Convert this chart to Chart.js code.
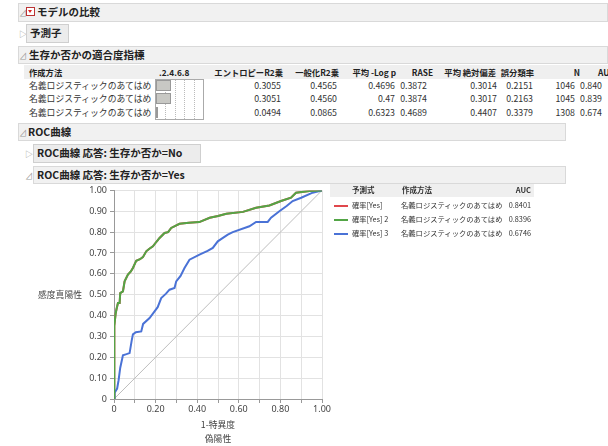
<!DOCTYPE html>
<html>
<head>
<meta charset="utf-8">
<script src="https://cdn.jsdelivr.net/npm/chart.js@4"></script>
<style>
  html, body { margin: 0; padding: 0; }
  body { width: 608px; height: 446px; overflow: hidden; background: #fff; position: relative;
         font-family: "Noto Sans CJK JP", sans-serif; color: #222; }
  .abs { position: absolute; white-space: nowrap; }
  .bar { position: absolute; background: #f1f1f1; border: 1px solid #d9d9d9; box-sizing: border-box; }
  .btn { position: absolute; background: #ececec; border: 1px solid #cfcfcf; box-sizing: border-box; }
  .ttl { position: absolute; font-weight: bold; font-size: 10.5px; line-height: 14px; }
  .tri { position: absolute; font-size: 8px; color: #999; line-height: 10px; }
  .cell { position: absolute; font-size: 8.8px; line-height: 12px; white-space: nowrap; color: #333; }
  .hd { font-weight: bold; color: #222; font-size: 8.3px; }
  #chartBox { position: absolute; left: 0; top: 182px; width: 332px; height: 238px; }
  .lg { position: absolute; font-size: 7.3px; line-height: 11px; white-space: nowrap; color: #333; }
  .lg.hd { font-size: 7.5px; }
</style>
</head>
<body>

<!-- report outline -->
<div class="bar" style="left:18px;top:3px;width:590px;height:19px;"></div>
<div class="tri" style="left:19px;top:8px;">⊿</div>
<div class="abs" style="left:26px;top:7px;width:9px;height:9px;border:1px solid #b33;background:#fff;box-sizing:border-box;"></div>
<div class="abs" style="left:28px;top:10px;width:0;height:0;border-left:2.5px solid transparent;border-right:2.5px solid transparent;border-top:3px solid #d22;"></div>
<div class="ttl" style="left:37px;top:5px;">モデルの比較</div>

<div class="tri" style="left:19px;top:29px;">▷</div>
<div class="btn" style="left:26px;top:24px;width:43px;height:19px;"></div>
<div class="ttl" style="left:30px;top:26px;">予測子</div>

<div class="bar" style="left:18px;top:46px;width:590px;height:18px;"></div>
<div class="tri" style="left:19px;top:51px;">⊿</div>
<div class="ttl" style="left:29px;top:48px;">生存か否かの適合度指標</div>

<div class="abs" style="left:24px;top:65px;width:584px;height:14px;background:#efefef;"></div>
<div id="fitTable"></div>

<div class="bar" style="left:18px;top:123px;width:548px;height:18px;"></div>
<div class="tri" style="left:19px;top:128px;">⊿</div>
<div class="ttl" style="left:28px;top:125px;">ROC曲線</div>

<div class="tri" style="left:25px;top:149px;">▷</div>
<div class="btn" style="left:33px;top:144px;width:168px;height:19px;"></div>
<div class="ttl" style="left:37px;top:146px;">ROC曲線 応答: 生存か否か=No</div>

<div class="bar" style="left:33px;top:166px;width:533px;height:18px;"></div>
<div class="tri" style="left:25px;top:171px;">⊿</div>
<div class="ttl" style="left:37px;top:168px;">ROC曲線 応答: 生存か否か=Yes</div>

<div id="chartBox"><canvas id="roc"></canvas></div>
<div class="cell" style="left:38px;top:289px;color:#444;">感度真陽性</div>
<div class="cell" style="left:188px;top:419px;width:60px;text-align:center;color:#444;">1-特異度</div>
<div class="cell" style="left:188px;top:433px;width:60px;text-align:center;color:#444;">偽陽性</div>

<div id="legend"></div>

<script>
// fit statistics table
const methods = ['名義ロジスティックのあてはめ', '名義ロジスティックのあてはめ', '名義ロジスティックのあてはめ'];
const entropyR2 = [0.3055, 0.3051, 0.0494];
const generalR2 = [0.4565, 0.4560, 0.0865];
const meanLogP = ['0.4696', '0.47', '0.6323'];
const rase = [0.3872, 0.3874, 0.4689];
const meanAbsDev = [0.3014, 0.3017, 0.4407];
const misclass = [0.2151, 0.2163, 0.3379];
const nObs = [1046, 1045, 1308];
const aucTable = ['0.840', '0.839', '0.674'];

// ROC legend
const predictors = ['確率[Yes]', '確率[Yes] 2', '確率[Yes] 3'];
const auc = [0.8401, 0.8396, 0.6746];

// ROC curves (1-specificity, sensitivity)
const fpr2 = [0, 0, 0.003, 0.008, 0.012, 0.019, 0.027, 0.03, 0.043, 0.051, 0.067, 0.08, 0.091, 0.107, 0.125, 0.139, 0.155, 0.17, 0.187, 0.205, 0.219, 0.243, 0.26, 0.275, 0.295, 0.315, 0.36, 0.41, 0.46, 0.5, 0.54, 0.62, 0.683, 0.747, 0.803, 0.851, 0.875, 0.94, 1];
const tpr2 = [0, 0.15, 0.35, 0.41, 0.43, 0.46, 0.46, 0.508, 0.516, 0.564, 0.596, 0.61, 0.628, 0.663, 0.67, 0.68, 0.708, 0.72, 0.732, 0.755, 0.772, 0.796, 0.8, 0.82, 0.83, 0.84, 0.845, 0.848, 0.869, 0.877, 0.888, 0.897, 0.917, 0.928, 0.949, 0.965, 0.989, 0.997, 1];
// curve 1 lies under curve 2 in the picture
const fpr1 = fpr2;
const tpr1 = tpr2;
const fpr3 = [0, 0.003, 0.015, 0.022, 0.03, 0.043, 0.06, 0.075, 0.085, 0.091, 0.105, 0.131, 0.14, 0.171, 0.195, 0.21, 0.227, 0.25, 0.267, 0.291, 0.299, 0.32, 0.339, 0.363, 0.411, 0.45, 0.475, 0.499, 0.52, 0.547, 0.571, 0.651, 0.683, 0.739, 0.755, 0.795, 0.83, 0.859, 0.9, 0.955, 1];
const tpr3 = [0, 0.03, 0.05, 0.09, 0.15, 0.21, 0.215, 0.22, 0.28, 0.31, 0.32, 0.324, 0.36, 0.388, 0.42, 0.44, 0.484, 0.505, 0.524, 0.532, 0.564, 0.59, 0.628, 0.668, 0.692, 0.71, 0.724, 0.756, 0.77, 0.788, 0.8, 0.828, 0.849, 0.849, 0.869, 0.9, 0.925, 0.949, 0.965, 0.989, 1];

const colors = ['#e0474c', '#53a546', '#4a72d6'];

function put(parent, text, x, y, cls, align) {
  const d = document.createElement('div');
  d.className = cls;
  d.textContent = text;
  d.style.top = (y - 6) + 'px';
  if (align === 'r') { d.style.right = (608 - x) + 'px'; } else { d.style.left = x + 'px'; }
  parent.appendChild(d);
  return d;
}

const tbl = document.getElementById('fitTable');
const hy = 72, rowY = [86, 99, 113];
put(tbl, '作成方法', 29, hy, 'cell hd');
put(tbl, '.2.4.6.8', 159, hy, 'cell hd');
put(tbl, 'エントロピーR2乗', 283, hy, 'cell hd', 'r');
put(tbl, '一般化R2乗', 339, hy, 'cell hd', 'r');
put(tbl, '平均 -Log p', 396, hy, 'cell hd', 'r');
put(tbl, 'RASE', 433, hy, 'cell hd', 'r');
put(tbl, '平均 絶対偏差', 496, hy, 'cell hd', 'r');
put(tbl, '誤分類率', 534, hy, 'cell hd', 'r');
put(tbl, 'N', 580, hy, 'cell hd', 'r');
put(tbl, 'AUC', 598, hy, 'cell hd');

// mini bar box
const boxL = 155, boxW = 49;
const box = document.createElement('div');
box.className = 'abs';
Object.assign(box.style, {left: boxL + 'px', top: '79px', width: boxW + 'px', height: '41px', border: '1px solid #aaa', boxSizing: 'border-box', background: '#fff'});
tbl.appendChild(box);
[0.2, 0.4, 0.6, 0.8].forEach(v => {
  const l = document.createElement('div');
  l.className = 'abs';
  Object.assign(l.style, {left: (boxL + v * boxW) + 'px', top: '80px', height: '39px', borderLeft: '1px dotted #bbb'});
  tbl.appendChild(l);
});
methods.forEach((m, i) => {
  const y = rowY[i];
  put(tbl, m, 29, y, 'cell');
  const b = document.createElement('div');
  b.className = 'abs';
  Object.assign(b.style, {left: (boxL + 1) + 'px', top: (y - 6) + 'px', width: Math.max(1, entropyR2[i] * boxW) + 'px', height: '11px', background: '#c8c8c4', border: '1px solid #999', boxSizing: 'border-box'});
  tbl.appendChild(b);
  put(tbl, entropyR2[i].toFixed(4), 281, y, 'cell', 'r');
  put(tbl, generalR2[i].toFixed(4), 337, y, 'cell', 'r');
  put(tbl, meanLogP[i], 395, y, 'cell', 'r');
  put(tbl, rase[i].toFixed(4), 427, y, 'cell', 'r');
  put(tbl, meanAbsDev[i].toFixed(4), 497, y, 'cell', 'r');
  put(tbl, misclass[i].toFixed(4), 533, y, 'cell', 'r');
  put(tbl, String(nObs[i]), 575, y, 'cell', 'r');
  put(tbl, aucTable[i], 580, y, 'cell');
});

// legend table
const lg = document.getElementById('legend');
const lgBg = document.createElement('div');
lgBg.className = 'abs';
Object.assign(lgBg.style, {left: '330px', top: '184px', width: '204px', height: '13px', background: '#efefef'});
lg.appendChild(lgBg);
put(lg, '予測式', 352, 190, 'lg hd');
put(lg, '作成方法', 402, 190, 'lg hd');
put(lg, 'AUC', 531, 190, 'lg hd', 'r');
predictors.forEach((p, i) => {
  const y = 206 + i * 14;
  const sw = document.createElement('div');
  sw.className = 'abs';
  Object.assign(sw.style, {left: '334px', top: (y - 1) + 'px', width: '14px', height: '2px', background: colors[i]});
  lg.appendChild(sw);
  put(lg, p, 352, y, 'lg');
  put(lg, methods[i], 401, y, 'lg');
  put(lg, auc[i].toFixed(4), 531, y, 'lg', 'r');
});

function pts(xs, ys) { return xs.map((x, i) => ({x: x, y: ys[i]})); }

new Chart(document.getElementById('roc'), {
  type: 'scatter',
  data: {
    datasets: [
      {data: pts([0, 1], [0, 1]), showLine: true, borderColor: '#bdbdbd', borderWidth: 1, pointRadius: 0, order: 4},
      {data: pts(fpr1, tpr1), showLine: true, borderColor: colors[0], borderWidth: 2, pointRadius: 0, order: 3},
      {data: pts(fpr2, tpr2), showLine: true, borderColor: colors[1], borderWidth: 2, pointRadius: 0, order: 1},
      {data: pts(fpr3, tpr3), showLine: true, borderColor: colors[2], borderWidth: 2, pointRadius: 0, order: 2}
    ]
  },
  options: {
    responsive: true,
    maintainAspectRatio: false,
    animation: false,
    layout: {padding: {left: 0, right: 10, top: 8, bottom: 0}},
    plugins: {legend: {display: false}, tooltip: {enabled: false}},
    scales: {
      x: {
        type: 'linear', min: 0, max: 1,
        afterFit: s => { s.height = 21; },
        grid: {color: '#e2e2e2', tickColor: '#999', tickLength: 4},
        border: {color: '#999'},
        ticks: {stepSize: 0.1, autoSkip: false, maxRotation: 0, padding: 1, color: '#444', font: {family: 'Noto Sans', size: 9},
          callback: v => { const k = Math.round(v * 10); return k % 2 ? '' : (k === 0 ? '0' : (k / 10).toFixed(2)); }}
      },
      y: {
        type: 'linear', min: 0, max: 1,
        afterFit: s => { s.width = 114; },
        grid: {color: '#e2e2e2', tickColor: '#999', tickLength: 4},
        border: {color: '#999'},
        ticks: {stepSize: 0.1, autoSkip: false, padding: 3, color: '#444', font: {family: 'Noto Sans', size: 9},
          callback: v => { const k = Math.round(v * 10); return k === 0 ? '0' : (k / 10).toFixed(2); }}
      }
    }
  }
});
</script>
</body>
</html>
